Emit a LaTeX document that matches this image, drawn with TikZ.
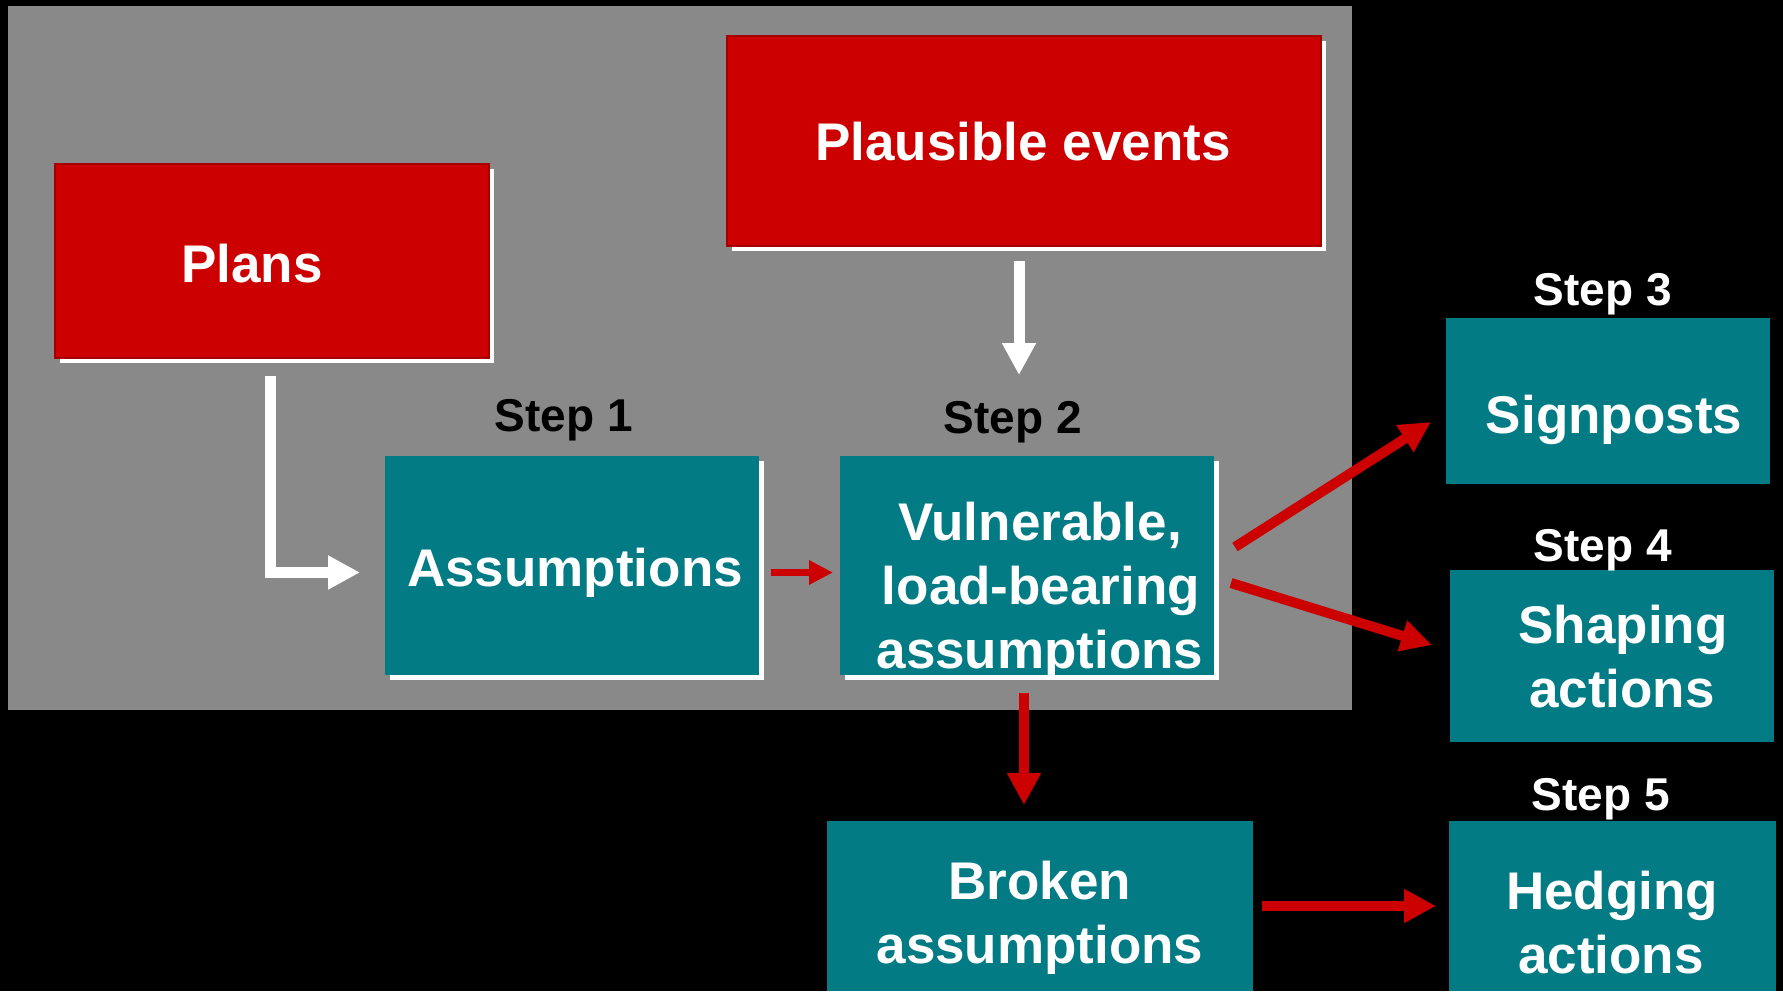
\documentclass[tikz,border=0pt]{standalone}
\usepackage{fontspec}
\setmainfont{Liberation Sans}
\usetikzlibrary{arrows.meta,shadows}
\definecolor{panelgray}{HTML}{898989}
\definecolor{boxred}{HTML}{CC0000}
\definecolor{boxredline}{HTML}{A30000}
\definecolor{boxteal}{HTML}{027B84}
\begin{document}
\begin{tikzpicture}[x=1pt,y=-1pt,
  box/.style={rectangle, inner sep=0pt, outer sep=0pt, anchor=north west},
  redbox/.style={box, fill=boxred, draw=boxredline, line width=1.2pt},
  tealbox/.style={box, fill=boxteal},
  lifted/.style={drop shadow={fill=white, opacity=1, shadow xshift=5pt, shadow yshift=-5pt}},
  boxtext/.style={inner sep=0pt, anchor=base, text=white, font=\fontsize{53}{64}\selectfont\bfseries},
  steptext/.style={inner sep=0pt, anchor=base, font=\fontsize{46}{55}\selectfont\bfseries},
  whitearrow/.style={draw=white, line width=11pt, line join=miter, -{Triangle[length=32pt,width=32pt]}},
  redarrow/.style={draw=boxred, line width=10pt, -{Triangle[length=32pt,width=32pt]}},
]
% canvas
\useasboundingbox (0,0) rectangle (1783,991);
\fill[black] (0,0) rectangle (1783,991);
\node[box, fill=panelgray, minimum width=1344pt, minimum height=704pt] (panel) at (8,6) {};

% inputs
\node[redbox, lifted, minimum width=434pt, minimum height=194pt] (plans) at (55,164) {};
\node[boxtext] (plansT) at (252,282) {Plans};
\node[redbox, lifted, minimum width=594pt, minimum height=210pt] (plaus) at (727,36) {};
\node[boxtext] (plausT) at (1023,160) {Plausible events};

% steps 1 and 2
\node[tealbox, lifted, minimum width=374pt, minimum height=219pt] (assump) at (385,456) {};
\node[boxtext] (assumpT) at (575,586) {Assumptions};
\node[steptext] (stepOne) at (564,431) {Step 1};

\node[tealbox, lifted, minimum width=374pt, minimum height=219pt] (vul) at (840,456) {};
\node[boxtext] (vulA) at (1040,540) {Vulnerable,};
\node[boxtext] (vulB) at (1041,604) {load-bearing};
\node[boxtext] (vulC) at (1040,668) {assumptions};
\node[steptext] (stepTwo) at (1013,433) {Step 2};

% steps 3 to 5
\node[tealbox, minimum width=324pt, minimum height=166pt] (sign) at (1446,318) {};
\node[boxtext] (signT) at (1614,433) {Signposts};
\node[steptext, text=white] (stepThree) at (1603,305) {Step 3};

\node[tealbox, minimum width=324pt, minimum height=172pt] (shape) at (1450,570) {};
\node[boxtext] (shapeA) at (1623,643) {Shaping};
\node[boxtext] (shapeB) at (1622,707) {actions};
\node[steptext, text=white] (stepFour) at (1603,561) {Step 4};

\node[tealbox, minimum width=426pt, minimum height=170pt] (broken) at (827,821) {};
\node[boxtext] (brokenA) at (1040,899) {Broken};
\node[boxtext] (brokenB) at (1040,963) {assumptions};

\node[tealbox, minimum width=327pt, minimum height=170pt] (hedge) at (1449,821) {};
\node[boxtext] (hedgeA) at (1612,909) {Hedging};
\node[boxtext] (hedgeB) at (1611,973) {actions};
\node[steptext, text=white] (stepFive) at (1601,810) {Step 5};

% connectors
\draw[whitearrow, shorten <=18pt, shorten >=25pt]
  ([xshift=-2pt]plans.south) |- ([yshift=-7pt]assump.west);
\draw[whitearrow, shorten <=15pt, shorten >=81pt]
  ([xshift=-5pt]plaus.south) -- ([xshift=-5pt]plaus.south |- vul.north);
\draw[redarrow, line width=7pt, -{Triangle[length=24pt,width=23pt]}, shorten <=12pt, shorten >=7pt]
  ([yshift=-7pt]assump.east) -- ([yshift=-7pt]assump.east -| vul.west);
\draw[redarrow, -{Triangle[length=31pt,width=30pt]}]
  ([shift={(21,-18.5)}]vul.east) -- ([shift={(-15,21)}]sign.west);
\draw[redarrow, -{Triangle[length=31pt,width=30pt]}]
  ([shift={(17,17.5)}]vul.east) -- ([shift={(-18,-11)}]shape.west);
\draw[redarrow, shorten <=18pt, shorten >=16pt]
  ([xshift=-3pt]vul.south) -- ([xshift=-3pt]vul.south |- broken.north);
\draw[redarrow, shorten <=9pt, shorten >=13pt]
  (broken.east) -- (hedge.west);
\end{tikzpicture}
\end{document}
